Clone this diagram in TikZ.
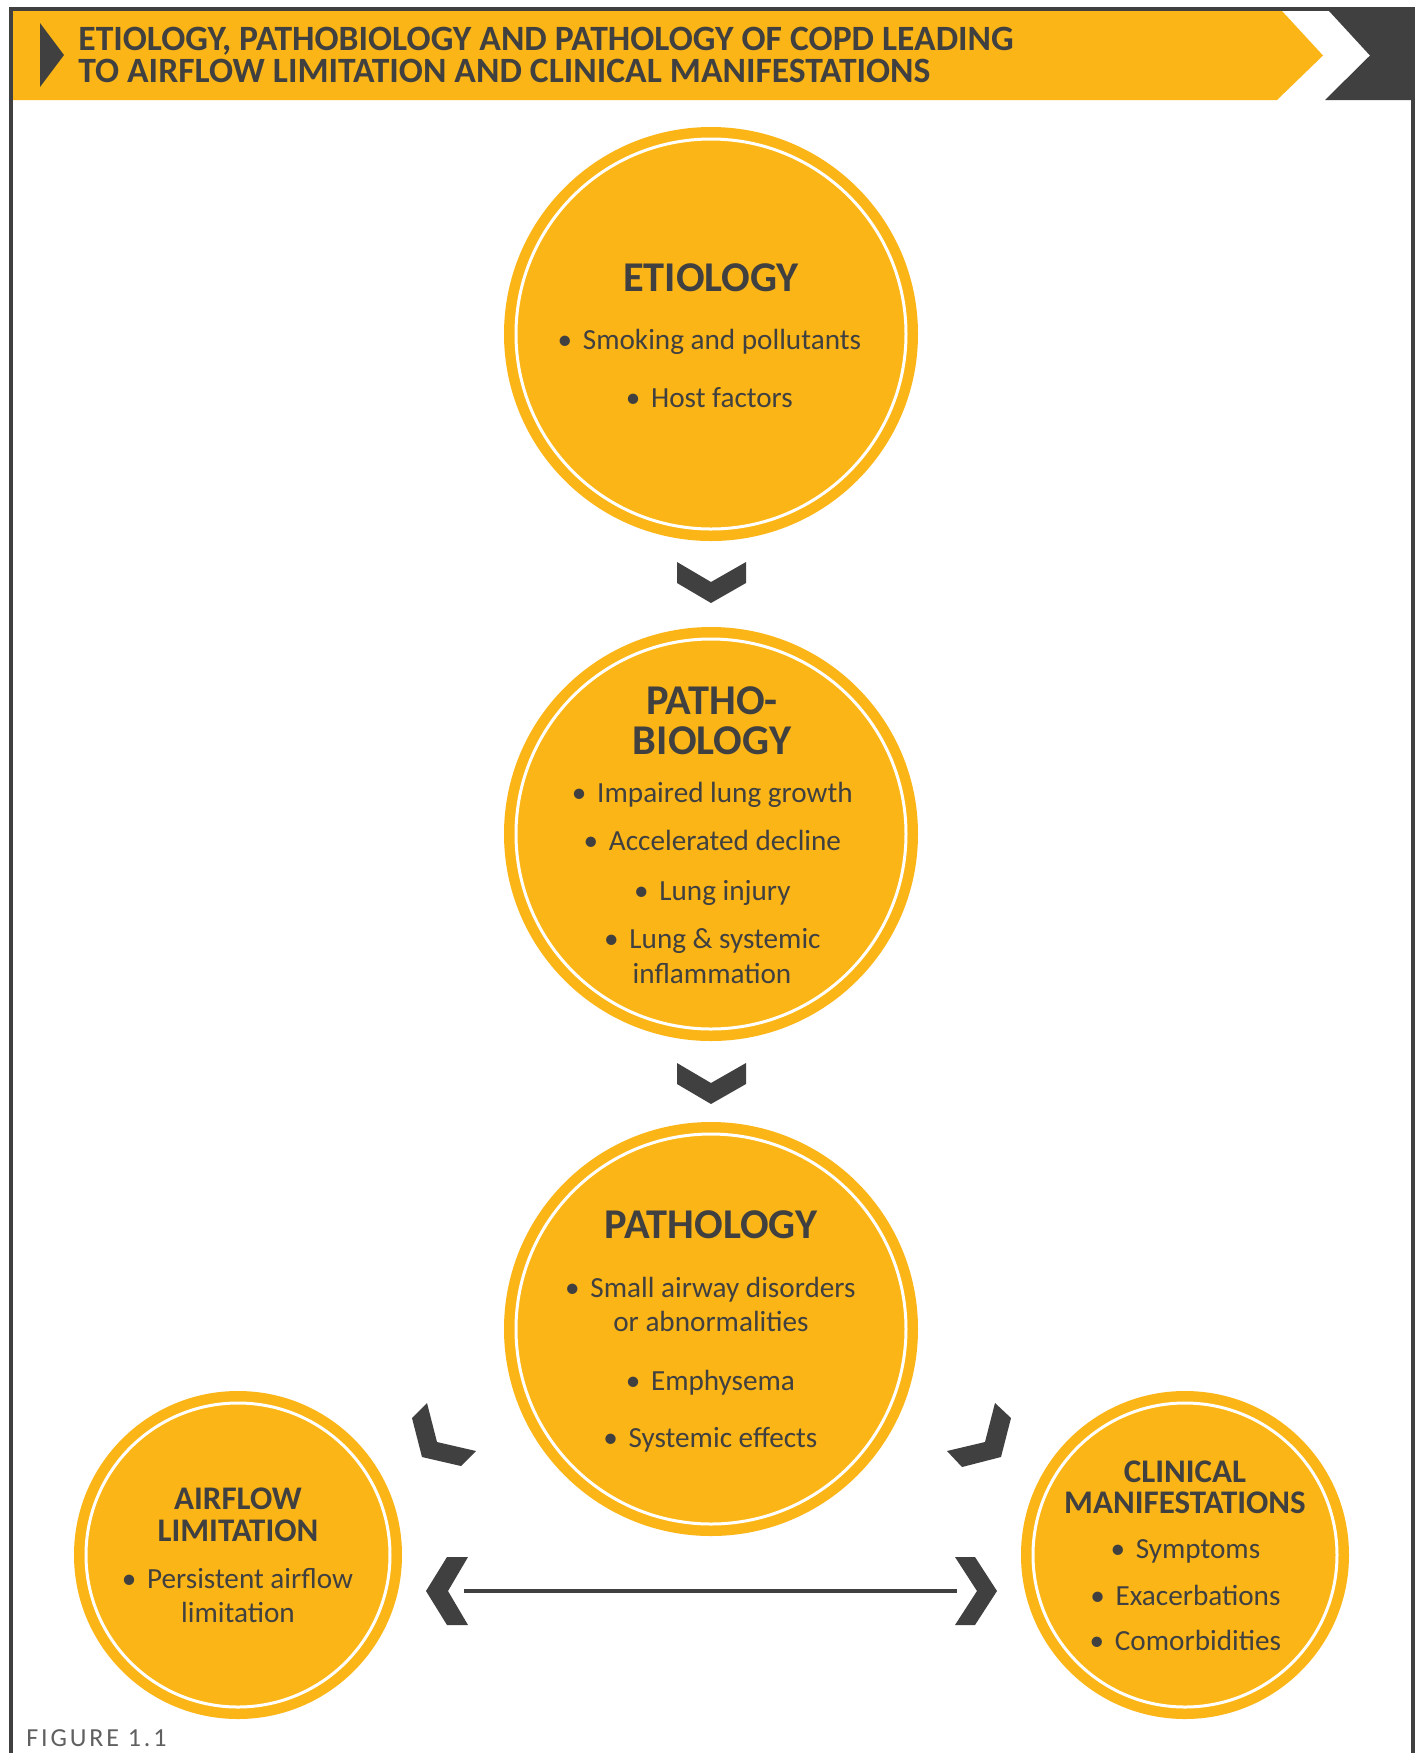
\documentclass[tikz,border=0pt]{standalone}
\usepackage{fontspec}
\setmainfont{Carlito}
\newfontfamily\labelfont[LetterSpace=11]{Carlito}
\definecolor{gyel}{HTML}{FBB517}
\definecolor{gdark}{HTML}{404040}
\definecolor{glabel}{HTML}{606060}
\newcommand{\bl}{\makebox[4pt][c]{\textbullet}\hspace{7pt}}
\begin{document}
\begin{tikzpicture}[x=0.5pt,y=-0.5pt,
  disc/.style={circle, fill=gyel, inner sep=0pt, outer sep=0pt},
  ring/.style={circle, draw=white, line width=1.5pt, inner sep=0pt, outer sep=0pt},
  bigtitle/.style={anchor=base, text=gdark, font=\fontsize{21.2}{21.2}\selectfont\bfseries, inner sep=0pt},
  smalltitle/.style={anchor=base, text=gdark, font=\fontsize{16.5}{16.5}\selectfont\bfseries, inner sep=0pt},
  item/.style={anchor=base, text=gdark, font=\fontsize{14.6}{14.6}\selectfont, inner sep=0pt},
  headtext/.style={anchor=base west, text=gdark, font=\fontsize{17.8}{17.8}\selectfont\bfseries, inner sep=0pt},
  chev/.style={fill=gdark, draw=none},
]
\useasboundingbox (0,0) rectangle (1425,1753);
\fill[white] (0,0) rectangle (1425,1753);

% header band
\fill[gyel] (12,11) -- (1282,11) -- (1323,55.5) -- (1277,100) -- (12,100) -- cycle;
\fill[gdark] (1329,11) -- (1413,11) -- (1413,100) -- (1325,100) -- (1370,55.5) -- cycle;
\fill[gdark] (40,23) -- (64,55) -- (40,87) -- cycle;
\draw[gdark, line width=2pt] (11,1753) -- (11,9) -- (1413,9) -- (1413,1753);
\node[headtext] (h1) at (78,50) {ETIOLOGY, PATHOBIOLOGY AND PATHOLOGY OF COPD LEADING};
\node[headtext] (h2) at (78,82) {TO AIRFLOW LIMITATION AND CLINICAL MANIFESTATIONS};

% circles
\node[disc, minimum size=207pt] (etio) at (711,334) {};
\node[ring, minimum size=195pt] (etioR) at (etio.center) {};
\node[disc, minimum size=207pt] (patbio) at (711,834) {};
\node[ring, minimum size=195pt] (patbioR) at (patbio.center) {};
\node[disc, minimum size=207pt] (path) at (711,1329) {};
\node[ring, minimum size=195pt] (pathR) at (path.center) {};
\node[disc, minimum size=164pt] (airflow) at (238,1555) {};
\node[ring, minimum size=152pt] (airflowR) at (airflow.center) {};
\node[disc, minimum size=164pt] (clin) at (1185,1555) {};
\node[ring, minimum size=152pt] (clinR) at (clin.center) {};

% etiology text
\node[bigtitle] (etioT) at (711,291) {ETIOLOGY};
\node[item] (etio1) at (711,349) {\bl Smoking and pollutants};
\node[item] (etio2) at (711,407) {\bl Host factors};

% pathobiology text
\node[bigtitle, align=center, font=\fontsize{21.2}{20}\selectfont\bfseries] (patbioT) at (712,754) {PATHO-\\BIOLOGY};
\node[item] (patbio1) at (714,802) {\bl Impaired lung growth};
\node[item] (patbio2) at (714,850) {\bl Accelerated decline};
\node[item] (patbio3) at (714,900) {\bl Lung injury};
\node[item] (patbio4) at (714,948) {\bl Lung \& systemic};
\node[item] (patbio5) at (712,983) {inflammation};

% pathology text
\node[bigtitle] (pathT) at (711,1238) {PATHOLOGY};
\node[item] (path1) at (712,1297) {\bl Small airway disorders};
\node[item] (path2) at (711,1331) {or abnormalities};
\node[item] (path3) at (712,1390) {\bl Emphysema};
\node[item] (path4) at (712,1447) {\bl Systemic effects};

% airflow text
\node[smalltitle] (airT1) at (238,1509) {AIRFLOW};
\node[smalltitle] (airT2) at (238,1541) {LIMITATION};
\node[item] (air1) at (239,1588) {\bl Persistent airflow};
\node[item] (air2) at (238,1622) {limitation};

% clinical text
\node[smalltitle] (clinT1) at (1185,1482) {CLINICAL};
\node[smalltitle] (clinT2) at (1185,1513) {MANIFESTATIONS};
\node[item] (clin1) at (1187,1558) {\bl Symptoms};
\node[item] (clin2) at (1187,1605) {\bl Exacerbations};
\node[item] (clin3) at (1187,1650) {\bl Comorbidities};

% chevrons
\fill[chev] (677,562) -- (711,582) -- (746,562) -- (746,583) -- (711,603) -- (677,583) -- cycle;
\fill[chev] (677,1063) -- (711,1083) -- (746,1063) -- (746,1084) -- (711,1104) -- (677,1084) -- cycle;
\fill[chev] (427,1403) -- (437,1442) -- (476,1451) -- (461,1466) -- (422,1457) -- (412,1418) -- cycle;
\fill[chev] (995,1403) -- (1011,1418) -- (1001,1457) -- (962,1467) -- (947,1451) -- (985,1442) -- cycle;
\fill[chev] (426,1591) -- (447,1557) -- (468,1557) -- (448,1591) -- (468,1625) -- (447,1625) -- cycle;
\fill[chev] (997,1591) -- (975,1557) -- (955,1557) -- (977,1591) -- (955,1625) -- (975,1625) -- cycle;
\coordinate (lineL) at (464,1591);
\coordinate (lineR) at (957,1591);
\draw[gdark, line width=1.6pt] (lineL) -- (lineR);

% figure label
\node[anchor=base west, inner sep=0pt, text=glabel, font=\labelfont\fontsize{13}{13}\selectfont] (figlabel) at (26,1746) {FIGURE 1.1};
\end{tikzpicture}
\end{document}
